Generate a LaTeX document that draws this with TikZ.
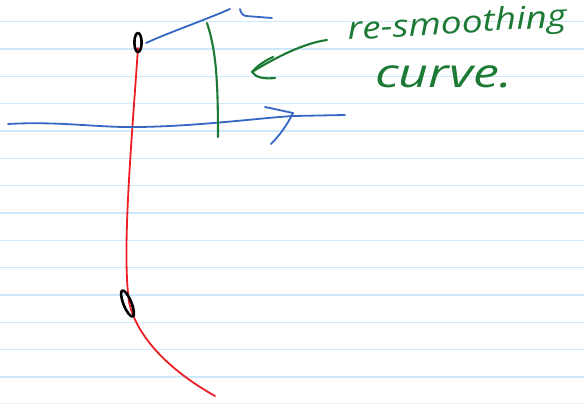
\documentclass[tikz,border=0pt]{standalone}
\usepackage{fontspec}
\setmainfont{Open Sans}
\definecolor{rule}{RGB}{206,232,250}
\definecolor{penblue}{RGB}{52,104,196}
\definecolor{pengreen}{RGB}{28,122,52}
\definecolor{penred}{RGB}{236,30,36}
\tikzset{
  ruled/.style={draw=rule, line width=1.6pt},
  pen/.style={line width=1.8pt, line cap=round, line join=round},
  blueink/.style={pen, draw=penblue},
  greenink/.style={pen, draw=pengreen, line width=2.1pt},
  redink/.style={pen, draw=penred},
  blackink/.style={pen, draw=black, line width=2.6pt},
  hand/.style={text=pengreen, font=\itshape, inner sep=0pt, anchor=base west}
}
\begin{document}
\begin{tikzpicture}[x=1pt,y=-1pt]
\fill[white] (0,0) rectangle (584,404);
\useasboundingbox (0,0) rectangle (584,404);
% ruled paper
\foreach \k in {0,...,13} {
  \draw[ruled] (0,{21.7+27.33*\k}) -- (584,{21.7+27.33*\k});
}
\draw[draw=black!6, line width=1pt] (0,403.5) -- (584,403.5);
% red curve
\draw[redink] (138,48) .. controls (131,150) and (122,250) .. (129,302)
  .. controls (135,330) and (160,365) .. (215,396);
% horizontal axis
\draw[blueink] (8,124) .. controls (60,121) and (100,128) .. (140,127)
  .. controls (200,126) and (260,118) .. (293,116) -- (345,115);
\draw[blueink] (265,107) -- (293,113) .. controls (287,125) and (280,135) .. (271,144);
% upper blue curve
\draw[blueink] (146,43) .. controls (170,32) and (205,20) .. (230,9);
\draw[blueink] (240,9) .. controls (241,13) and (242,15) .. (246,16) -- (272,18);
% green vertical
\draw[greenink] (207,23) .. controls (216,50) and (218,80) .. (218,137);
% green arrow
\draw[greenink] (327,40) .. controls (305,43) and (278,56) .. (252,72);
\draw[greenink] (273,57) .. controls (264,61) and (256,67) .. (252,72)
  .. controls (256,78) and (265,79) .. (275,78);
% black markers
\draw[blackink] (138,42.5) ellipse [x radius=3.6, y radius=9.5];
\draw[blackink, rotate around={22:(127.5,303.5)}] (127.5,303.5) ellipse [x radius=4, y radius=14];
% labels
\node[hand, rotate=3.5, xscale=1.2, font=\itshape\fontsize{31}{34}\selectfont] (lbl1) at (348,40) {re-smoothing};
\node[hand, xscale=1.3, font=\itshape\fontsize{40}{44}\selectfont] (lbl2) at (375,88) {curve.};
\end{tikzpicture}
\end{document}
